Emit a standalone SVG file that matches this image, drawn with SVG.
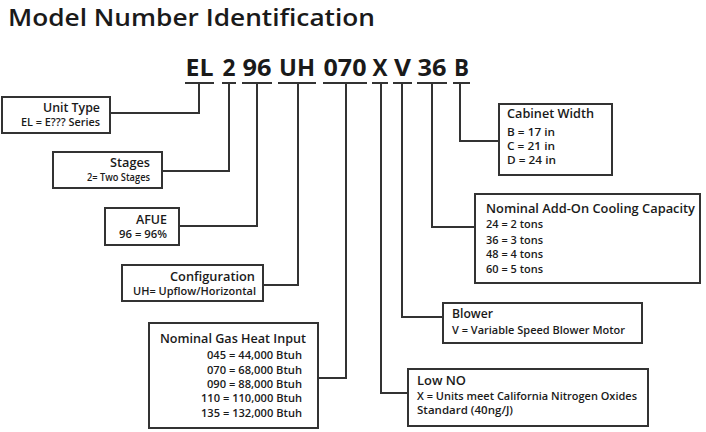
<svg xmlns="http://www.w3.org/2000/svg" width="706" height="432" viewBox="0 0 706 432">
<style>
text{font-family:"Open Sans","Noto Sans","Liberation Sans",sans-serif;fill:#1a1a1a}
.title{font-size:23.5px;font-weight:600}
.code{font-size:23px;font-weight:700;text-anchor:middle}
.h{font-size:12.5px;font-weight:600}
.b{font-size:10.5px;font-weight:600}
.r{text-anchor:end}
.box{fill:#fff;stroke:#333;stroke-width:2}
.ln{fill:none;stroke:#333;stroke-width:2}
</style>
<rect width="706" height="432" fill="#fff"/>
<text class="title" x="8" y="26" textLength="367" lengthAdjust="spacingAndGlyphs">Model Number Identification</text>
<g id="code">
<text class="code" x="199.5" y="76" textLength="28" lengthAdjust="spacingAndGlyphs">EL</text>
<text class="code" x="229" y="76" textLength="13" lengthAdjust="spacingAndGlyphs">2</text>
<text class="code" x="257" y="76" textLength="29" lengthAdjust="spacingAndGlyphs">96</text>
<text class="code" x="297" y="76" textLength="36" lengthAdjust="spacingAndGlyphs">UH</text>
<text class="code" x="345" y="76" textLength="43" lengthAdjust="spacingAndGlyphs">070</text>
<text class="code" x="380" y="76" textLength="15" lengthAdjust="spacingAndGlyphs">X</text>
<text class="code" x="402.5" y="76" textLength="17" lengthAdjust="spacingAndGlyphs">V</text>
<text class="code" x="432" y="76" textLength="29" lengthAdjust="spacingAndGlyphs">36</text>
<text class="code" x="461.5" y="76" textLength="15" lengthAdjust="spacingAndGlyphs">B</text>
</g>
<g id="connectors" class="ln">
<path d="M185,83H214M222,83H236M242,83H272M278,83H316M323,83H367M372,83H388M393,83H412M417,83H447M453,83H470"/>
<path d="M199,83V113H110"/>
<path d="M229,83V171H162"/>
<path d="M257,83V226H179"/>
<path d="M298,83V285H263"/>
<path d="M346,83V378H318"/>
<path d="M381,83V393H408"/>
<path d="M402,83V317H443"/>
<path d="M432,83V227H475"/>
<path d="M460,83V141H499"/>
</g>
<g id="unit-type">
<rect class="box" x="2" y="97" width="108" height="36"/>
<text class="h r" x="100" y="111.5" textLength="57" lengthAdjust="spacingAndGlyphs">Unit Type</text>
<text class="b r" x="100" y="126" textLength="79" lengthAdjust="spacingAndGlyphs">EL = E??? Series</text>
</g>
<g id="stages">
<rect class="box" x="53" y="152" width="109" height="36"/>
<text class="h r" x="150" y="166.5" textLength="40" lengthAdjust="spacingAndGlyphs">Stages</text>
<text class="b r" x="150" y="181" textLength="63" lengthAdjust="spacingAndGlyphs">2= Two Stages</text>
</g>
<g id="afue">
<rect class="box" x="105" y="208" width="74" height="37"/>
<text class="h r" x="167" y="223.5" textLength="31" lengthAdjust="spacingAndGlyphs">AFUE</text>
<text class="b r" x="167" y="238" textLength="48" lengthAdjust="spacingAndGlyphs">96 = 96%</text>
</g>
<g id="configuration">
<rect class="box" x="122" y="265" width="141" height="36"/>
<text class="h r" x="255" y="280.5" textLength="85" lengthAdjust="spacingAndGlyphs">Configuration</text>
<text class="b r" x="256" y="295" textLength="123" lengthAdjust="spacingAndGlyphs">UH= Upflow/Horizontal</text>
</g>
<g id="gas-heat">
<rect class="box" x="149" y="323" width="169" height="105"/>
<text class="h" x="160" y="343" textLength="146" lengthAdjust="spacingAndGlyphs">Nominal Gas Heat Input</text>
<text class="b r" x="302" y="359" textLength="95" lengthAdjust="spacingAndGlyphs">045 = 44,000 Btuh</text>
<text class="b r" x="302" y="374" textLength="95" lengthAdjust="spacingAndGlyphs">070 = 68,000 Btuh</text>
<text class="b r" x="302" y="388" textLength="95" lengthAdjust="spacingAndGlyphs">090 = 88,000 Btuh</text>
<text class="b r" x="302" y="402" textLength="101" lengthAdjust="spacingAndGlyphs">110 = 110,000 Btuh</text>
<text class="b r" x="302" y="417" textLength="101" lengthAdjust="spacingAndGlyphs">135 = 132,000 Btuh</text>
</g>
<g id="cabinet-width">
<rect class="box" x="499" y="104" width="113" height="71"/>
<text class="h" x="507" y="118" textLength="87" lengthAdjust="spacingAndGlyphs">Cabinet Width</text>
<text class="b" x="507" y="136" textLength="48" lengthAdjust="spacingAndGlyphs">B = 17 in</text>
<text class="b" x="507" y="150" textLength="48" lengthAdjust="spacingAndGlyphs">C = 21 in</text>
<text class="b" x="507" y="164" textLength="49" lengthAdjust="spacingAndGlyphs">D = 24 in</text>
</g>
<g id="cooling">
<rect class="box" x="475" y="194" width="225" height="89"/>
<text class="h" x="486" y="213" textLength="209" lengthAdjust="spacingAndGlyphs">Nominal Add-On Cooling Capacity</text>
<text class="b" x="486" y="228" textLength="57" lengthAdjust="spacingAndGlyphs">24 = 2 tons</text>
<text class="b" x="486" y="244" textLength="57" lengthAdjust="spacingAndGlyphs">36 = 3 tons</text>
<text class="b" x="486" y="258" textLength="57" lengthAdjust="spacingAndGlyphs">48 = 4 tons</text>
<text class="b" x="486" y="273" textLength="57" lengthAdjust="spacingAndGlyphs">60 = 5 tons</text>
</g>
<g id="blower">
<rect class="box" x="443" y="303" width="199" height="40"/>
<text class="h" x="452" y="318" textLength="41" lengthAdjust="spacingAndGlyphs">Blower</text>
<text class="b" x="452" y="334" textLength="173" lengthAdjust="spacingAndGlyphs">V = Variable Speed Blower Motor</text>
</g>
<g id="low-no">
<rect class="box" x="408" y="369" width="240" height="57"/>
<text class="h" x="417" y="385" textLength="49" lengthAdjust="spacingAndGlyphs">Low NO</text>
<text class="b" x="417" y="400" textLength="220" lengthAdjust="spacingAndGlyphs">X = Units meet California Nitrogen Oxides</text>
<text class="b" x="417" y="414" textLength="96" lengthAdjust="spacingAndGlyphs">Standard (40ng/J)</text>
</g>
</svg>
